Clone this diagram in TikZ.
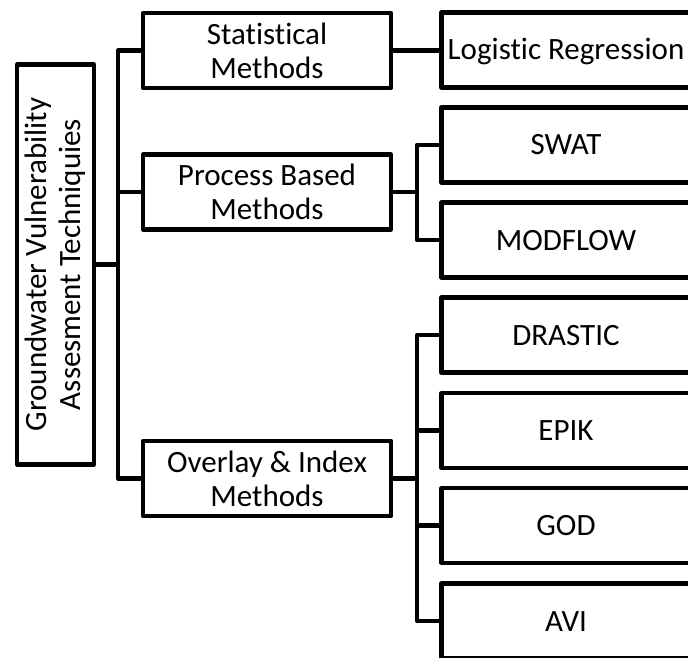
\documentclass[tikz,border=0pt]{standalone}
\usepackage{fontspec}
\setmainfont{Carlito}[Ligatures=NoCommon]
\begin{document}
\begin{tikzpicture}[x=1pt,y=1pt,
  box/.style={draw, line width=4.2pt, line join=round, minimum height=75pt, inner sep=0pt, align=center, font=\fontsize{31}{34}\selectfont},
  mid/.style={box, minimum width=248pt},
  leaf/.style={box, minimum width=249pt, text height=20pt, text depth=0pt},
  conn/.style={line width=4.2pt, line join=round}]
\useasboundingbox (0,0) rectangle (688,-658);
\clip (0,0) rectangle (688,-658);
\node[box, rotate=90, minimum width=400pt, minimum height=77pt] (root) at (55.5,-264.5) {Groundwater Vulnerability\\Assesment Techniquies};
\node[mid] (stat) at (267,-50.5) {Statistical\\Methods};
\node[mid] (proc) at (267,-192) {Process Based\\Methods};
\node[mid] (over) at (267,-478.5) {Overlay \& Index\\Methods};
\node[leaf] (lr) at (566,-50) {Logistic Regression};
\node[leaf] (swat) at (566,-145) {SWAT};
\node[leaf] (modflow) at (566,-240) {MODFLOW};
\node[leaf] (drastic) at (566,-335) {DRASTIC};
\node[leaf] (epik) at (566,-430.5) {EPIK};
\node[leaf] (god) at (566,-525.5) {GOD};
\node[leaf] (avi) at (566,-621) {AVI};
\coordinate (b0) at (118,0);
\coordinate (b1) at (417,0);
\draw[conn] (stat.west) -| (b0 |- over.west) -- (over.west);
\draw[conn] (proc.west) -- (proc.west -| b0);
\draw[conn] (root.south) -- (root.south -| b0);
\draw[conn] (stat.east) -- (stat.east -| lr.west);
\draw[conn] (swat.west) -| (b1 |- modflow.west) -- (modflow.west);
\draw[conn] (proc.east) -- (proc.east -| b1);
\draw[conn] (drastic.west) -| (b1 |- avi.west) -- (avi.west);
\draw[conn] (epik.west) -- (epik.west -| b1);
\draw[conn] (god.west) -- (god.west -| b1);
\draw[conn] (over.east) -- (over.east -| b1);
\end{tikzpicture}
\end{document}
